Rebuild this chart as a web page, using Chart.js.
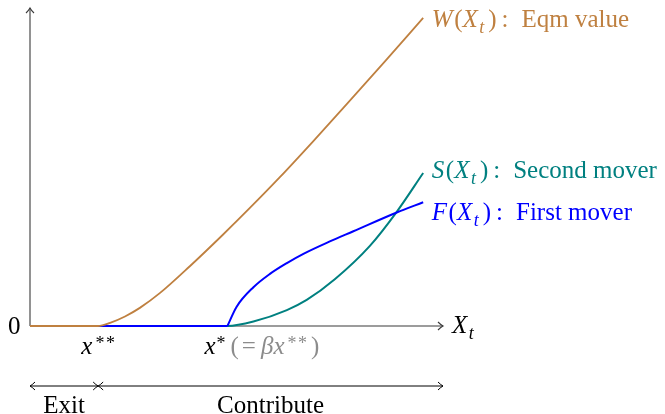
<!DOCTYPE html>
<html lang="en">
<head>
<meta charset="UTF-8">
<title>Equilibrium value</title>
<script src="https://cdn.jsdelivr.net/npm/chart.js@4.4.0/dist/chart.umd.min.js"></script>
<style>
  body { margin: 0; background: #fff; }
  canvas { display: block; }
</style>
</head>
<body>
<canvas id="valueChart" width="665" height="414"></canvas>
<script>
// thresholds on the X_t axis
const xStarStar = 1.65;   // x**
const xStar = 4.78;       // x* (= beta x**)
const xAxisEnd = 10;
const yAxisEnd = 10;

// W(X_t): equilibrium value
const wX = [0, 1.65, 1.94, 2.30, 2.66, 3.15, 3.87, 4.67, 5.33, 6.05, 6.85, 7.68, 8.60, 9.52];
const wY = [0, 0, 0.10, 0.30, 0.57, 1.04, 1.88, 2.87, 3.72, 4.68, 5.80, 6.99, 8.33, 9.69];

// F(X_t): first mover (zero up to x*, then concave)
const fFlatX = [0, 4.78];
const fFlatY = [0, 0];
const fX = [4.78, 5.00, 5.41, 5.81, 6.22, 6.62, 7.26, 7.83, 8.88, 9.52];
const fY = [0, 0.60, 1.22, 1.64, 1.98, 2.27, 2.66, 2.98, 3.57, 3.89];

// S(X_t): second mover
const sX = [0, 4.78, 5.41, 6.22, 6.70, 7.38, 8.23, 8.88, 9.52];
const sY = [0, 0, 0.14, 0.50, 0.82, 1.47, 2.52, 3.59, 4.81];

const brown = '#bf8040';
const teal = '#008080';
const blue = '#0000ff';
const gray = '#8c8c8c';

// parts: [text, style, colour, extra space after]
const mathOf = (name) => [[name, 'i', null, 1.5], ['(', 'r'], ['X', 'i', null, 1.5], ['t', 'sub', null, 4], [')', 'r', null, 5], [':', 'r', null, 13]];

const curveLabels = [
  { x: 9.73, y: 9.40, color: brown, parts: mathOf('W').concat([['Eqm value', 'r']]) },
  { x: 9.73, y: 4.65, color: teal, parts: mathOf('S').concat([['Second mover', 'r']]) },
  { x: 9.73, y: 3.33, color: blue, parts: mathOf('F').concat([['First mover', 'r']]) }
];

const FONT = '"Liberation Serif", "DejaVu Serif", serif';
const SIZE = 25;

function toPoints(xs, ys) {
  return xs.map((x, i) => ({ x: x, y: ys[i] }));
}

function fontFor(style, size) {
  const small = style === 'sub' || style === 'sup';
  const italic = style === 'i' || style === 'sub';
  return (italic ? 'italic ' : '') + (small ? Math.round(size * 0.7) : size) + 'px ' + FONT;
}

function partWidth(ctx, p) {
  ctx.font = fontFor(p[1], SIZE);
  return ctx.measureText(p[0]).width + (p[3] || 0);
}

function drawMath(ctx, x, y, parts, color, align) {
  let total = 0;
  parts.forEach(p => { total += partWidth(ctx, p); });
  let cx = align === 'center' ? x - total / 2 : x;
  ctx.textAlign = 'left';
  ctx.textBaseline = 'alphabetic';
  parts.forEach(p => {
    ctx.font = fontFor(p[1], SIZE);
    ctx.fillStyle = p[2] || color;
    let dy = 0;
    if (p[1] === 'sub') dy = SIZE * 0.22;
    if (p[1] === 'sup') dy = -SIZE * 0.2;
    ctx.fillText(p[0], cx, y + dy);
    cx += partWidth(ctx, p);
  });
}

function arrowHead(ctx, x, y, dir) {
  const a = 5, b = 4;
  ctx.beginPath();
  if (dir === 'up') {
    ctx.moveTo(x - b, y + a);
    ctx.quadraticCurveTo(x - 1, y + 2, x, y);
    ctx.quadraticCurveTo(x + 1, y + 2, x + b, y + a);
  } else if (dir === 'right') {
    ctx.moveTo(x - a, y - b);
    ctx.quadraticCurveTo(x - 2, y - 1, x, y);
    ctx.quadraticCurveTo(x - 2, y + 1, x - a, y + b);
  } else {
    ctx.moveTo(x + a, y - b);
    ctx.quadraticCurveTo(x + 2, y - 1, x, y);
    ctx.quadraticCurveTo(x + 2, y + 1, x + a, y + b);
  }
  ctx.stroke();
}

const sketchPlugin = {
  id: 'sketch',
  beforeDatasetsDraw(chart) {
    const ctx = chart.ctx;
    const xs = chart.scales.x, ys = chart.scales.y;
    const x0 = xs.getPixelForValue(0), y0 = ys.getPixelForValue(0);
    const xEnd = xs.getPixelForValue(xAxisEnd), yEnd = ys.getPixelForValue(yAxisEnd);
    ctx.save();
    ctx.strokeStyle = '#3a3a3a';
    ctx.lineWidth = 1.1;
    ctx.beginPath();
    ctx.moveTo(x0, y0);
    ctx.lineTo(x0, yEnd);
    ctx.moveTo(x0, y0);
    ctx.lineTo(xEnd, y0);
    ctx.stroke();
    arrowHead(ctx, x0, yEnd, 'up');
    arrowHead(ctx, xEnd, y0, 'right');
    ctx.restore();
  },
  afterDraw(chart) {
    const ctx = chart.ctx;
    const xs = chart.scales.x, ys = chart.scales.y;
    const area = chart.chartArea;
    const x0 = xs.getPixelForValue(0), y0 = ys.getPixelForValue(0);
    const xEnd = xs.getPixelForValue(xAxisEnd);
    const pSS = xs.getPixelForValue(xStarStar);
    const pS = xs.getPixelForValue(xStar);
    ctx.save();

    curveLabels.forEach(l => {
      drawMath(ctx, xs.getPixelForValue(l.x), ys.getPixelForValue(l.y), l.parts, l.color, 'left');
    });

    // axis labels
    drawMath(ctx, xEnd + 9, y0 + 7, [['X', 'i', null, 1.5], ['t', 'sub']], '#000', 'left');
    drawMath(ctx, x0 - 22, y0 + 8, [['0', 'r']], '#000', 'left');
    drawMath(ctx, pSS, y0 + 28, [['x', 'i', null, 3], ['*', 'sup', null, 1.5], ['*', 'sup']], '#000', 'center');
    drawMath(ctx, pS - 23, y0 + 28,
      [['x', 'i', null, 1], ['*', 'sup', null, 5], ['(', 'r', gray, 3], ['=', 'r', gray, 5],
       ['β', 'i', gray, 0], ['x', 'i', gray, 3], ['*', 'sup', gray, 1.5], ['*', 'sup', gray, 4], [')', 'r', gray]],
      '#000', 'left');

    // regions below the axis
    const yb = area.bottom + 60;
    ctx.strokeStyle = '#000';
    ctx.lineWidth = 1;
    ctx.beginPath();
    ctx.moveTo(x0, yb);
    ctx.lineTo(xEnd, yb);
    ctx.stroke();
    arrowHead(ctx, x0, yb, 'left');
    arrowHead(ctx, pSS, yb, 'right');
    arrowHead(ctx, pSS, yb, 'left');
    arrowHead(ctx, xEnd, yb, 'right');
    drawMath(ctx, (x0 + pSS) / 2, yb + 27, [['Exit', 'r']], '#000', 'center');
    drawMath(ctx, (pSS + xEnd) / 2, yb + 27, [['Contribute', 'r']], '#000', 'center');
    ctx.restore();
  }
};

const lineStyle = {
  showLine: true,
  pointRadius: 0,
  borderWidth: 2,
  cubicInterpolationMode: 'monotone',
  clip: false
};

new Chart(document.getElementById('valueChart'), {
  type: 'scatter',
  data: {
    datasets: [
      Object.assign({ label: 'W', data: toPoints(wX, wY), borderColor: brown }, lineStyle, { borderWidth: 1.8 }),
      Object.assign({ label: 'F flat', data: toPoints(fFlatX, fFlatY), borderColor: blue }, lineStyle),
      Object.assign({ label: 'F', data: toPoints(fX, fY), borderColor: blue }, lineStyle),
      Object.assign({ label: 'S', data: toPoints(sX, sY), borderColor: teal }, lineStyle)
    ]
  },
  options: {
    responsive: false,
    animation: false,
    layout: { padding: { left: 30, right: 222, top: 8, bottom: 88 } },
    scales: {
      x: { type: 'linear', min: 0, max: xAxisEnd, display: false },
      y: { type: 'linear', min: 0, max: yAxisEnd, display: false }
    },
    plugins: {
      legend: { display: false },
      tooltip: { enabled: false }
    }
  },
  plugins: [sketchPlugin]
});
</script>
</body>
</html>
